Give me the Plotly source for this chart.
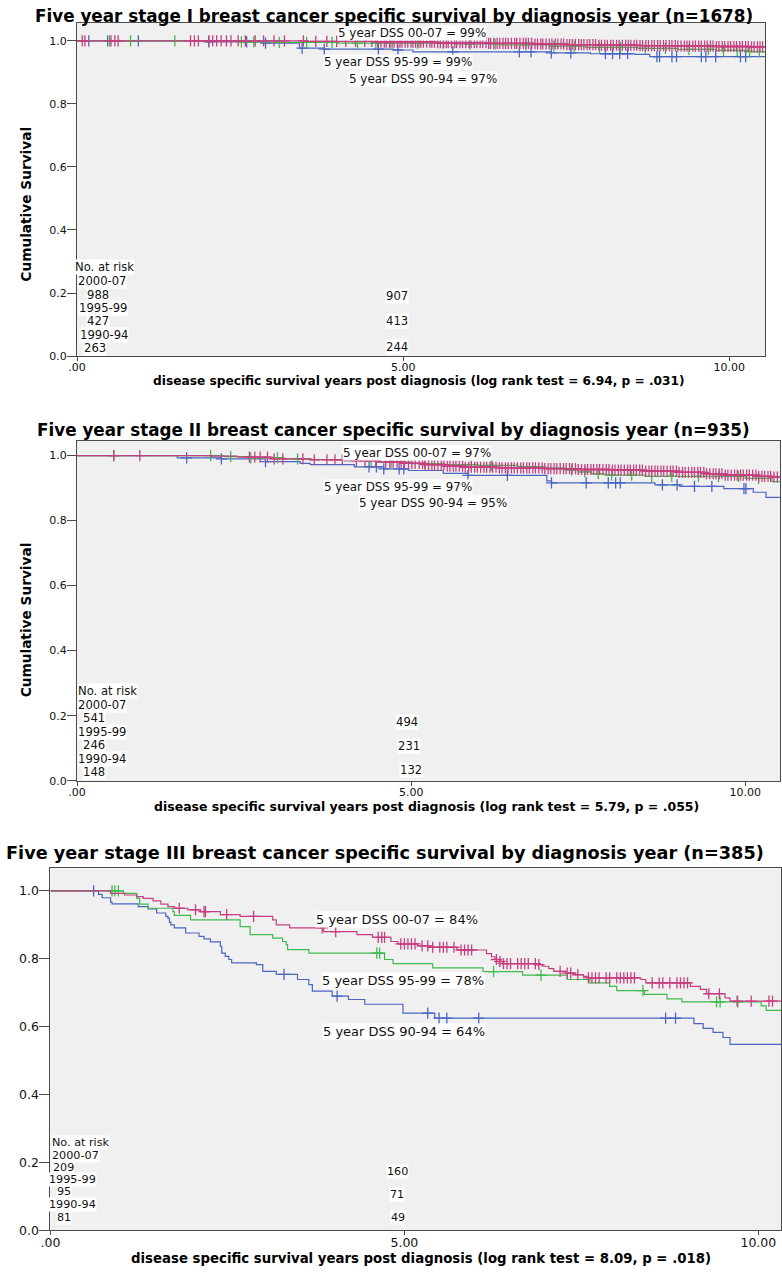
import plotly.graph_objects as go

W, H = 782, 1278

GROUPS = ["1990-94", "1995-99", "2000-07"]
COLORS = {"2000-07": "#c63f80", "1995-99": "#3fbb4d", "1990-94": "#4a66c0"}

# ---------------- Stage I (n=1678) ----------------
s1_t = {
    "1990-94": [0, 1.98, 2.85, 3.41, 3.79, 4.85, 5.15, 7.27, 7.87, 8.55, 8.78, 10.6],
    "1995-99": [0, 2.50, 3.07, 4.00, 5.75, 6.50, 7.27, 7.80, 8.60, 9.20, 9.80, 10.30, 10.6],
    "2000-07": [0, 3.50, 4.60, 5.50, 6.30, 7.00, 7.50, 8.00, 8.60, 9.20, 9.80, 10.30, 10.6],
}
s1_s = {
    "1990-94": [1.0, 0.997, 0.993, 0.977, 0.974, 0.971, 0.965, 0.962, 0.959, 0.957, 0.950, 0.950],
    "1995-99": [1.0, 0.997, 0.995, 0.993, 0.990, 0.987, 0.983, 0.979, 0.976, 0.973, 0.970, 0.966, 0.966],
    "2000-07": [1.0, 0.998, 0.996, 0.994, 0.992, 0.990, 0.988, 0.986, 0.985, 0.983, 0.982, 0.981, 0.981],
}
s1_cens = {
    "1990-94": [0.18, 0.47, 0.94, 2.02, 2.60, 2.89, 3.45, 3.79, 4.62, 4.92, 5.76, 6.78, 6.96, 7.27,
                7.57, 8.10, 8.21, 8.32, 8.44, 8.89, 8.93, 9.12, 9.19, 9.57, 9.64, 9.79, 10.17, 10.25],
    "1995-99": [0.50, 0.82, 1.50, 2.52, 2.71, 3.10, 3.52, 3.91, 4.30, 4.58, 4.80, 5.22, 5.61, 6.02,
                6.41, 6.88, 7.31, 7.62, 8.01, 8.33, 8.71, 9.02, 9.38, 9.68, 9.91, 10.12, 10.31, 10.46],
    "2000-07": [0.08, 0.12, 0.52, 0.58, 0.63, 1.74, 1.80, 1.86, 2.02, 2.08, 2.14, 2.21, 2.29, 2.36,
                2.47, 2.58, 2.73, 2.86, 3.02, 3.18, 3.47, 3.66, 3.83, 3.98, 4.12, 4.27, 4.41, 4.52,
                4.61, 4.66, 4.71, 4.74, 4.79, 4.83, 4.86, 4.91, 4.95, 4.98, 5.03, 5.07, 5.12, 5.15,
                5.19, 5.24, 5.27, 5.31, 5.36, 5.41, 5.44, 5.48, 5.53, 5.57, 5.62, 5.66, 5.69, 5.74,
                5.79, 5.82, 5.87, 5.91, 5.96, 6.01, 6.04, 6.09, 6.13, 6.18, 6.22, 6.27, 6.31, 6.34,
                6.39, 6.44, 6.48, 6.53, 6.57, 6.61, 6.66, 6.71, 6.74, 6.79, 6.84, 6.88, 6.92, 6.97,
                7.02, 7.06, 7.11, 7.14, 7.19, 7.24, 7.28, 7.33, 7.37, 7.42, 7.46, 7.51, 7.55, 7.59,
                7.64, 7.69, 7.73, 7.77, 7.82, 7.86, 7.91, 7.95, 8.00, 8.04, 8.09, 8.13, 8.18, 8.22,
                8.27, 8.31, 8.36, 8.41, 8.45, 8.49, 8.54, 8.58, 8.63, 8.67, 8.72, 8.76, 8.81, 8.85,
                8.90, 8.94, 8.99, 9.03, 9.08, 9.12, 9.17, 9.21, 9.26, 9.31, 9.35, 9.39, 9.44, 9.48,
                9.53, 9.57, 9.62, 9.66, 9.71, 9.75, 9.80, 9.84, 9.89, 9.93, 9.98, 10.02, 10.07,
                10.11, 10.16, 10.20, 10.25, 10.29, 10.34, 10.38, 10.43, 10.47, 10.51],
}
s1_dss = ["5 year DSS 00-07 = 99%", "5 year DSS 95-99 = 99%", "5 year DSS 90-94 = 97%"]
s1_risk_start = ["988", "427", "263"]
s1_risk_5yr = ["907", "413", "244"]

# ---------------- Stage II (n=935) ----------------
s2_t = {
    "1990-94": [0, 1.50, 2.16, 2.82, 3.34, 3.49, 4.15, 4.59, 4.96, 5.48, 5.85, 7.03, 7.10, 8.65,
                9.02, 9.68, 10.12, 10.31, 10.6],
    "1995-99": [0, 2.20, 2.60, 3.10, 3.50, 4.00, 4.50, 5.00, 5.50, 6.00, 6.60, 7.00, 7.30, 7.50,
                7.70, 7.90, 8.50, 10.00, 10.40, 10.6],
    "2000-07": [0, 2.00, 2.40, 2.90, 3.50, 4.00, 4.50, 4.90, 5.20, 5.50, 5.80, 6.30, 7.00, 7.50,
                8.00, 8.50, 9.00, 9.40, 9.70, 10.20, 10.40, 10.6],
}
s2_s = {
    "1990-94": [1.0, 0.993, 0.990, 0.981, 0.976, 0.972, 0.965, 0.959, 0.954, 0.945, 0.939, 0.922,
                0.916, 0.910, 0.905, 0.898, 0.887, 0.871, 0.871],
    "1995-99": [1.0, 0.997, 0.993, 0.990, 0.987, 0.984, 0.980, 0.975, 0.972, 0.970, 0.966, 0.962,
                0.956, 0.950, 0.944, 0.940, 0.936, 0.930, 0.920, 0.920],
    "2000-07": [1.0, 0.998, 0.995, 0.990, 0.987, 0.984, 0.980, 0.976, 0.972, 0.967, 0.964, 0.962,
                0.960, 0.957, 0.955, 0.952, 0.948, 0.944, 0.940, 0.936, 0.934, 0.934],
}
s2_cens = {
    "1990-94": [1.64, 2.16, 2.82, 4.37, 4.48, 4.59, 4.82, 4.89, 5.85, 6.44, 7.10, 7.62, 7.95, 8.06,
                8.13, 8.76, 8.98, 9.24, 9.50, 9.98, 10.01],
    "1995-99": [0.55, 2.00, 2.30, 2.60, 3.00, 3.30, 4.40, 4.70, 5.20, 5.90, 6.20, 7.40, 7.60, 7.80,
                8.00, 8.30, 8.60, 8.90, 9.30, 9.60, 9.90, 10.20],
    "2000-07": [0.55, 0.94, 2.58, 2.66, 2.74, 2.85, 2.95, 3.08, 3.38, 3.55, 3.74, 3.86, 3.97, 4.18,
                4.31, 4.47, 4.62, 4.68, 4.73, 4.79, 4.85, 4.90, 4.96, 5.01, 5.06, 5.12, 5.17, 5.21,
                5.26, 5.31, 5.35, 5.40, 5.45, 5.49, 5.54, 5.58, 5.63, 5.67, 5.72, 5.77, 5.81, 5.86,
                5.90, 5.95, 5.99, 6.04, 6.09, 6.13, 6.18, 6.22, 6.27, 6.32, 6.36, 6.41, 6.45, 6.50,
                6.54, 6.59, 6.64, 6.68, 6.73, 6.77, 6.82, 6.86, 6.91, 6.96, 7.00, 7.05, 7.09, 7.14,
                7.18, 7.23, 7.28, 7.32, 7.37, 7.41, 7.46, 7.50, 7.55, 7.60, 7.64, 7.69, 7.73, 7.78,
                7.82, 7.87, 7.92, 7.96, 8.01, 8.05, 8.10, 8.14, 8.19, 8.24, 8.28, 8.33, 8.37, 8.42,
                8.46, 8.51, 8.56, 8.60, 8.65, 8.69, 8.74, 8.78, 8.83, 8.88, 8.92, 8.97, 9.01, 9.06,
                9.10, 9.15, 9.20, 9.24, 9.29, 9.33, 9.38, 9.42, 9.47, 9.52, 9.56, 9.61, 9.65, 9.70,
                9.74, 9.79, 9.84, 9.88, 9.93, 9.97, 10.02, 10.06, 10.11, 10.16, 10.20, 10.25, 10.29,
                10.34, 10.38, 10.43, 10.48],
}
s2_dss = ["5 year DSS 00-07 = 97%", "5 year DSS 95-99 = 97%", "5 year DSS 90-94 = 95%"]
s2_risk_start = ["541", "246", "148"]
s2_risk_5yr = ["494", "231", "132"]

# ---------------- Stage III (n=385) ----------------
s3_t = {
    "1990-94": [0, 0.68, 0.73, 0.85, 0.87, 1.24, 1.38, 1.50, 1.63, 1.66, 1.68, 1.70, 1.75, 1.91,
                2.10, 2.17, 2.26, 2.40, 2.42, 2.47, 2.52, 2.56, 2.91, 3.00, 3.19, 3.49, 3.65, 3.70,
                3.98, 4.21, 4.44, 4.98, 5.43, 9.09, 9.22, 9.36, 9.50, 9.60, 10.4],
    "1995-99": [0, 1.03, 1.22, 1.26, 1.38, 1.73, 1.75, 1.98, 2.68, 2.82, 3.14, 3.28, 3.33, 3.35,
                3.65, 4.72, 4.84, 5.40, 6.11, 6.67, 7.30, 7.62, 7.90, 8.00, 8.39, 8.71, 8.92, 10.04,
                10.11, 10.4],
    "2000-07": [0, 0.85, 1.05, 1.22, 1.31, 1.45, 1.56, 1.66, 1.75, 1.94, 2.12, 2.40, 2.68, 3.14,
                3.19, 3.38, 3.86, 4.33, 4.55, 4.81, 4.91, 5.19, 5.37, 5.74, 6.16, 6.23, 6.28, 6.35,
                6.39, 6.86, 6.95, 7.04, 7.11, 7.28, 7.41, 7.53, 7.60, 8.34, 8.41, 9.04, 9.18, 9.27,
                9.53, 9.60, 10.4],
}
s3_s = {
    "1990-94": [1.0, 0.990, 0.980, 0.967, 0.962, 0.954, 0.947, 0.935, 0.925, 0.920, 0.908, 0.900,
                0.891, 0.876, 0.866, 0.859, 0.850, 0.837, 0.817, 0.807, 0.798, 0.788, 0.783, 0.763,
                0.754, 0.739, 0.724, 0.705, 0.690, 0.680, 0.666, 0.640, 0.625, 0.609, 0.595, 0.583,
                0.568, 0.548, 0.548],
    "1995-99": [1.0, 0.993, 0.978, 0.961, 0.949, 0.939, 0.928, 0.915, 0.895, 0.871, 0.861, 0.851,
                0.842, 0.827, 0.817, 0.798, 0.786, 0.773, 0.762, 0.752, 0.739, 0.729, 0.719, 0.706,
                0.695, 0.682, 0.673, 0.661, 0.648, 0.648],
    "2000-07": [1.0, 0.993, 0.988, 0.983, 0.978, 0.971, 0.961, 0.954, 0.949, 0.944, 0.939, 0.930,
                0.925, 0.915, 0.900, 0.891, 0.880, 0.871, 0.863, 0.851, 0.844, 0.838, 0.834, 0.826,
                0.815, 0.806, 0.798, 0.792, 0.786, 0.783, 0.778, 0.771, 0.763, 0.758, 0.753, 0.748,
                0.744, 0.739, 0.729, 0.719, 0.710, 0.697, 0.685, 0.675, 0.675],
}
s3_cens = {
    "1990-94": [0.61, 3.30, 4.05, 5.33, 5.49, 5.60, 6.05, 8.69, 8.83],
    "1995-99": [0.87, 0.91, 0.96, 4.61, 4.65, 6.26, 6.93, 8.37, 9.41, 9.46, 9.71],
    "2000-07": [1.82, 2.05, 2.17, 2.19, 2.49, 2.87, 3.84, 4.03, 4.63, 4.68, 4.72, 4.95, 5.00, 5.05,
                5.10, 5.15, 5.25, 5.33, 5.40, 5.50, 5.55, 5.60, 5.70, 5.80, 5.85, 5.90, 5.95, 6.30,
                6.35, 6.40, 6.45, 6.50, 6.60, 6.65, 6.70, 6.75, 6.85, 6.90, 7.20, 7.30, 7.35, 7.45,
                7.60, 7.65, 7.70, 7.75, 7.85, 7.90, 8.00, 8.05, 8.10, 8.15, 8.20, 8.25, 8.50, 8.60,
                8.65, 8.75, 8.85, 8.90, 8.95, 9.00, 9.30, 9.45, 9.70, 9.90, 10.15, 10.20],
}
s3_dss = ["5 year DSS 00-07 = 84%", "5 year DSS 95-99 = 78%", "5 year DSS 90-94 = 64%"]
s3_risk_start = ["209", "95", "81"]
s3_risk_5yr = ["160", "71", "49"]

titles = [
    "Five year stage I breast cancer specific survival by diagnosis year (n=1678)",
    "Five year stage II breast cancer specific survival by diagnosis year (n=935)",
    "Five year stage III breast cancer specific survival by diagnosis year (n=385)",
]
xtitles = [
    "disease specific survival years post diagnosis (log rank test = 6.94, p = .031)",
    "disease specific survival years post diagnosis (log rank test = 5.79, p = .055)",
    "disease specific survival years post diagnosis (log rank test = 8.09, p = .018)",
]
ytitle = "Cumulative Survival"
risk_header = "No. at risk"
risk_groups = ["2000-07", "1995-99", "1990-94"]
x_ticks = [0, 5, 10]
x_ticktext = [".00", "5.00", "10.00"]
y_ticks = [0, 0.2, 0.4, 0.6, 0.8, 1.0]
y_ticktext = ["0.0", "0.2", "0.4", "0.6", "0.8", "1.0"]


def step_at(ts, ss, c):
    v = ss[0]
    for t, s in zip(ts, ss):
        if t <= c:
            v = s
        else:
            break
    return v


def px_x(l, r):
    return [l / W, r / W]


def px_y(top, bottom):
    return [1 - bottom / H, 1 - top / H]


# layout geometry for each panel (pixels / font sizes)
panels = [
    dict(t=s1_t, s=s1_s, c=s1_cens, dss=s1_dss, r0=s1_risk_start, r5=s1_risk_5yr,
         xd=(68, 766), yd=(23, 358), xr=10.55, yr=1.057,
         dss_pos=[(5.14, 1.026), (4.92, 0.933), (5.30, 0.880)],
         hdr=(0.42, 0.281), grp_pos=[(0.38, 0.237), (0.40, 0.153), (0.41, 0.067)],
         n0_pos=[(0.32, 0.195), (0.32, 0.110), (0.27, 0.025)],
         n5_pos=[(4.90, 0.192), (4.90, 0.110), (4.90, 0.028)],
         title_y=16, title_x=389, title_size=16.8,
         xt_y=383, xt_x=415, xt_size=12.2, yt=(16, 205), fs=11.9, rfs=11.6, tfs=11.0, ytl=9),
    dict(t=s2_t, s=s2_s, c=s2_cens, dss=s2_dss, r0=s2_risk_start, r5=s2_risk_5yr,
         xd=(68, 781), yd=(443, 785), xr=10.52, yr=1.046,
         dss_pos=[(5.09, 1.009), (4.81, 0.902), (5.33, 0.853)],
         hdr=(0.45, 0.275), grp_pos=[(0.38, 0.234), (0.38, 0.151), (0.38, 0.068)],
         n0_pos=[(0.25, 0.192), (0.25, 0.109), (0.25, 0.027)],
         n5_pos=[(4.94, 0.180), (4.97, 0.107), (5.00, 0.034)],
         title_y=432, title_x=389, title_size=16.8,
         xt_y=811, xt_x=422, xt_size=12.5, yt=(16, 623), fs=11.9, rfs=11.6, tfs=11.0, ytl=9),
    dict(t=s3_t, s=s3_s, c=s3_cens, dss=s3_dss, r0=s3_risk_start, r5=s3_risk_5yr,
         xd=(41, 782), yd=(873, 1237), xr=10.32, yr=1.067,
         dss_pos=[(4.90, 0.917), (4.98, 0.736), (5.00, 0.587)],
         hdr=(0.42, 0.258), grp_pos=[(0.35, 0.220), (0.31, 0.150), (0.31, 0.077)],
         n0_pos=[(0.19, 0.185), (0.19, 0.114), (0.19, 0.037)],
         n5_pos=[(4.90, 0.174), (4.90, 0.104), (4.91, 0.038)],
         title_y=858, title_x=380, title_size=17.7,
         xt_y=1265, xt_x=417, xt_size=13.3, yt=None, fs=13.0, rfs=11.2, tfs=12.5, ytl=10),
]

fig = go.Figure()
annotations = []
FONT = "DejaVu Sans"
TXT = "#111111"
AXC = "#4a4a4a"

for i, p in enumerate(panels):
    sfx = "" if i == 0 else str(i + 1)
    xa, ya = "x" + sfx, "y" + sfx
    for g in GROUPS:
        ts, ss = p["t"][g], p["s"][g]
        fig.add_trace(go.Scatter(
            x=ts, y=ss, mode="lines", line=dict(color=COLORS[g], width=1.2, shape="hv"),
            xaxis=xa, yaxis=ya, showlegend=False, hoverinfo="skip"))
        cx = p["c"][g]
        cy = [step_at(ts, ss, c) for c in cx]
        fig.add_trace(go.Scatter(
            x=cx, y=cy, mode="markers",
            marker=dict(symbol="cross-thin-open", size=8, color=COLORS[g],
                        line=dict(width=1.3, color=COLORS[g])),
            xaxis=xa, yaxis=ya, showlegend=False, hoverinfo="skip"))

    fig.layout["xaxis" + sfx] = dict(
        domain=px_x(*p["xd"]), range=[0, p["xr"]], anchor=ya,
        showgrid=False, zeroline=False, showline=True, linecolor=AXC, linewidth=1,
        mirror=True, ticks="outside", ticklen=4, tickcolor=AXC, ticklabelstandoff=-3,
        tickvals=x_ticks, ticktext=x_ticktext,
        tickfont=dict(family=FONT, size=p["tfs"], color=TXT))
    fig.layout["yaxis" + sfx] = dict(
        domain=px_y(*p["yd"]), range=[0, p["yr"]], anchor=xa,
        showgrid=False, zeroline=False, showline=True, linecolor=AXC, linewidth=1,
        mirror=True, ticks="outside", ticklen=p["ytl"], tickcolor=AXC, ticklabelstandoff=-2,
        tickvals=y_ticks, ticktext=y_ticktext,
        tickfont=dict(family=FONT, size=p["tfs"], color=TXT))

    def ann(text, x, y, size):
        annotations.append(dict(
            text=text, x=x, y=y, xref=xa, yref=ya, xanchor="center", yanchor="middle",
            showarrow=False, bgcolor="white", borderpad=0,
            font=dict(family=FONT, size=size, color=TXT)))

    for txt, (x, y) in zip(p["dss"], p["dss_pos"]):
        ann(txt, x, y, p["fs"])
    ann(risk_header, p["hdr"][0], p["hdr"][1], p["rfs"])
    for txt, (x, y) in zip(risk_groups, p["grp_pos"]):
        ann(txt, x, y, p["rfs"])
    for txt, (x, y) in zip(p["r0"], p["n0_pos"]):
        ann(txt, x, y, p["rfs"])
    for txt, (x, y) in zip(p["r5"], p["n5_pos"]):
        ann(txt, x, y, p["rfs"])

    annotations.append(dict(
        text="<b>" + titles[i] + "</b>", x=p["title_x"] / W, y=1 - p["title_y"] / H,
        xref="paper", yref="paper", xanchor="center", yanchor="middle", showarrow=False,
        font=dict(family=FONT, size=p["title_size"], color="#000000")))
    annotations.append(dict(
        text="<b>" + xtitles[i] + "</b>", x=p["xt_x"] / W, y=1 - p["xt_y"] / H,
        xref="paper", yref="paper", xanchor="center", yanchor="middle", showarrow=False,
        font=dict(family=FONT, size=p["xt_size"], color="#000000")))
    if p["yt"] is not None:
        annotations.append(dict(
            text="<b>" + ytitle + "</b>", x=p["yt"][0] / W, y=1 - p["yt"][1] / H,
            xref="paper", yref="paper", xanchor="center", yanchor="middle", showarrow=False,
            textangle=-90, font=dict(family=FONT, size=13.7, color="#000000")))

fig.update_layout(
    width=W, height=H, autosize=False,
    margin=dict(l=0, r=0, t=0, b=0),
    paper_bgcolor="white", plot_bgcolor="#f0f0f0",
    annotations=annotations, showlegend=False,
)

fig.write_html(
    "out.html",
    config={"displayModeBar": False},
    post_script="document.body.style.margin='0';document.body.style.overflow='hidden';",
)
